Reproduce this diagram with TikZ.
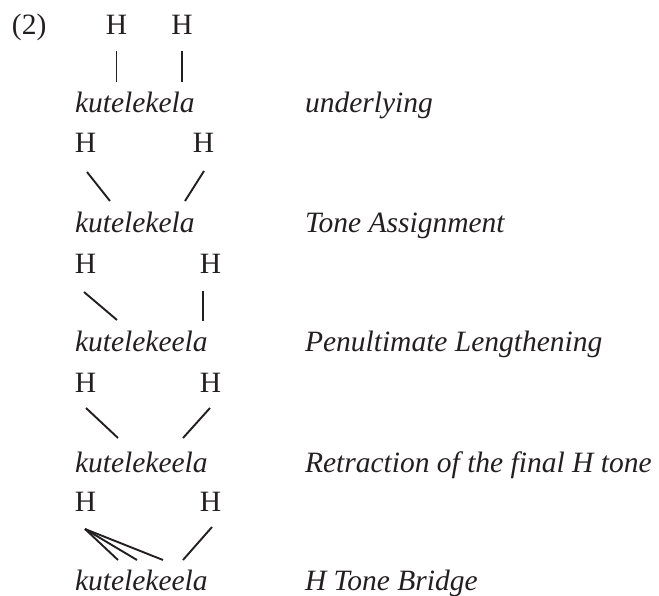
\documentclass[tikz,border=0pt]{standalone}
\usepackage{fontspec}
\setmainfont{Liberation Serif}
\definecolor{ink}{HTML}{231F20}
\begin{document}
\begin{tikzpicture}[x=1pt,y=-1pt,
  txt/.style={anchor=base west,inner sep=0pt,outer sep=0pt,text=ink,font=\fontsize{29.5}{32}\selectfont},
  wd/.style={txt,font=\fontsize{29.5}{32}\selectfont\itshape},
  tone/.style={anchor=base,inner sep=0pt,outer sep=0pt,text=ink,font=\fontsize{29.5}{32}\selectfont},
  assoc/.style={draw=ink,line width=1.9pt}]
\useasboundingbox (0,0) rectangle (659,596);
% example number
\node[txt] (num) at (12,35) {(2)};
% row 1
\node[tone] (h1a) at (116.5,35) {H};
\node[tone] (h1b) at (182,35) {H};
\node[wd] (w1) at (75,113) {kutelekela};
\node[wd] (l1) at (305,113) {underlying};
\coordinate (a1s) at (116.5,51); \coordinate (a1e) at (116.5,82);
\coordinate (b1s) at (182,51); \coordinate (b1e) at (182,82);
\draw[assoc] (a1s) -- (a1e);
\draw[assoc] (b1s) -- (b1e);
% row 2
\node[tone] (h2a) at (85.5,153) {H};
\node[tone] (h2b) at (203.5,153) {H};
\node[wd] (w2) at (75,233) {kutelekela};
\node[wd] (l2) at (305,233) {Tone Assignment};
\coordinate (a2s) at (87,172); \coordinate (a2e) at (110,201);
\coordinate (b2s) at (204,171); \coordinate (b2e) at (185,201);
\draw[assoc] (a2s) -- (a2e);
\draw[assoc] (b2s) -- (b2e);
% row 3
\node[tone] (h3a) at (85.5,273) {H};
\node[tone] (h3b) at (210.5,273) {H};
\node[wd] (w3) at (75,352) {kutelekeela};
\node[wd] (l3) at (305,352) {Penultimate Lengthening};
\coordinate (a3s) at (84,292); \coordinate (a3e) at (117,320);
\coordinate (b3s) at (203,291); \coordinate (b3e) at (203,321);
\draw[assoc] (a3s) -- (a3e);
\draw[assoc] (b3s) -- (b3e);
% row 4
\node[tone] (h4a) at (85.5,392) {H};
\node[tone] (h4b) at (210.5,392) {H};
\node[wd] (w4) at (75,472) {kutelekeela};
\node[wd] (l4) at (305,472) {Retraction of the final H tone};
\coordinate (a4s) at (86,408); \coordinate (a4e) at (118,438);
\coordinate (b4s) at (210,408); \coordinate (b4e) at (183,438);
\draw[assoc] (a4s) -- (a4e);
\draw[assoc] (b4s) -- (b4e);
% row 5
\node[tone] (h5a) at (85.5,511) {H};
\node[tone] (h5b) at (210.5,511) {H};
\node[wd] (w5) at (75,590) {kutelekeela};
\node[wd] (l5) at (305,590) {H Tone Bridge};
\coordinate (a5s) at (85,529);
\coordinate (a5e) at (118,560); \coordinate (a5f) at (137,560); \coordinate (a5g) at (163,560);
\coordinate (b5s) at (212,527); \coordinate (b5e) at (183,560);
\draw[assoc] (a5s) -- (a5e);
\draw[assoc] (a5s) -- (a5f);
\draw[assoc] (a5s) -- (a5g);
\draw[assoc] (b5s) -- (b5e);
\end{tikzpicture}
\end{document}
